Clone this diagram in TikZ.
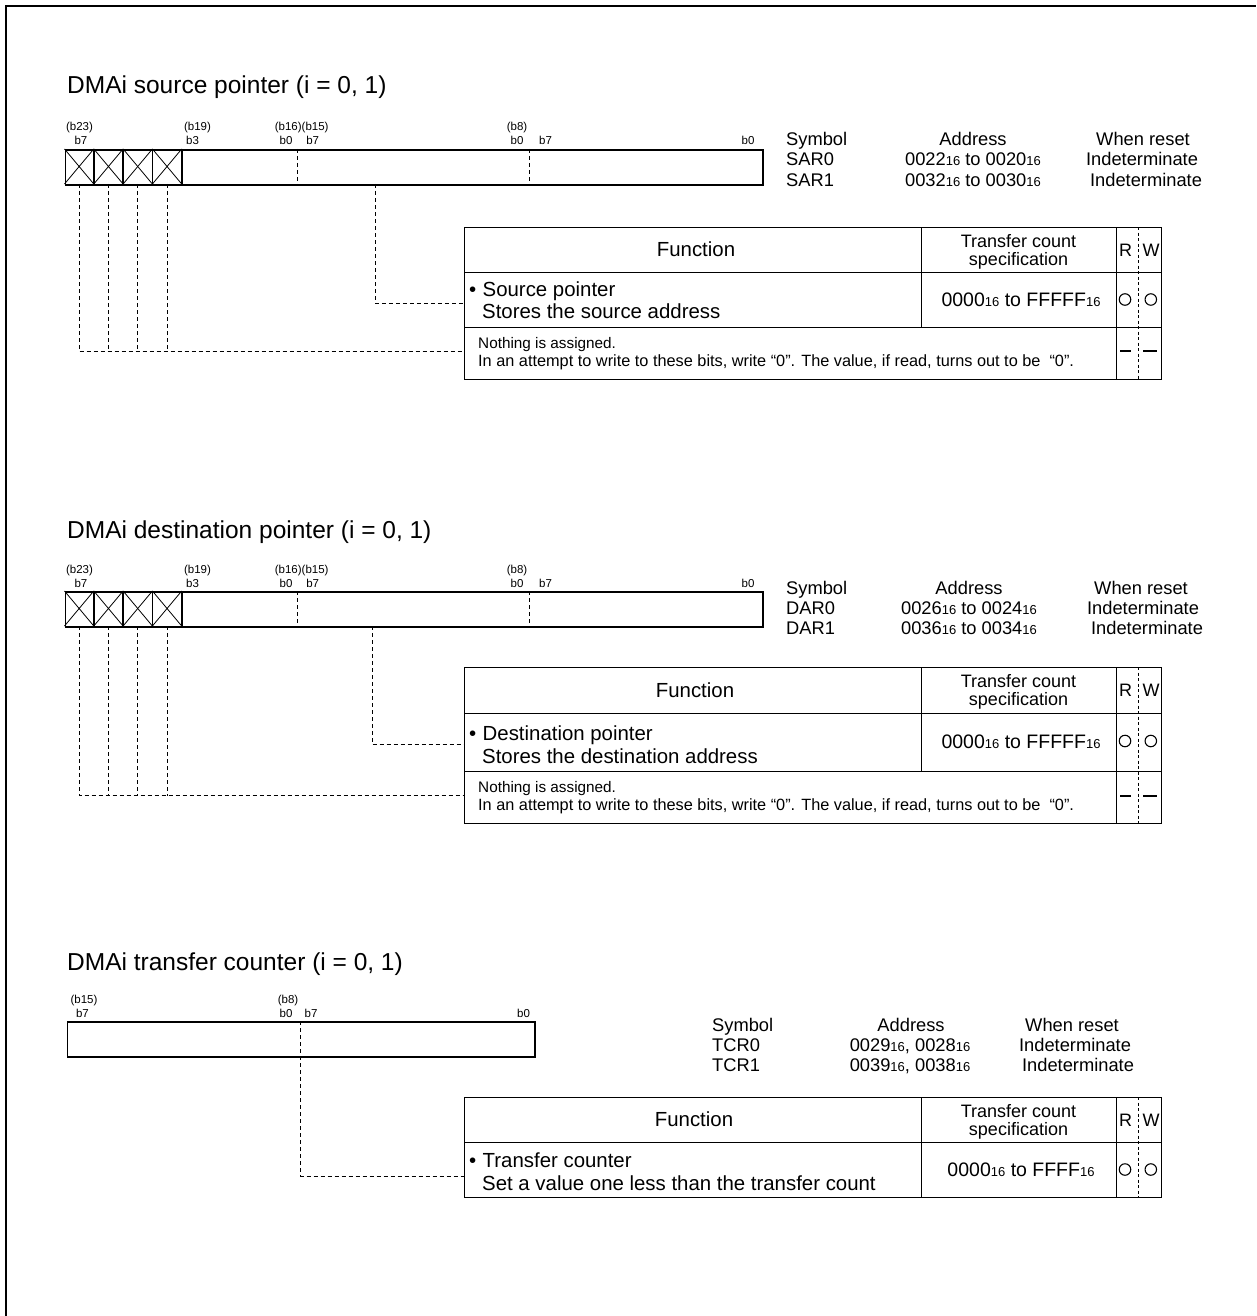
\documentclass[tikz,border=0pt]{standalone}
\usepackage{fontspec}
\setmainfont{Liberation Sans}
\newcommand\ftitle{\fontsize{24.5}{28}\selectfont}
\newcommand\fsym{\fontsize{18.3}{21}\selectfont}
\newcommand\ftab{\fontsize{20.4}{24}\selectfont}
\newcommand\fhdr{\fontsize{18}{21}\selectfont}
\newcommand\fval{\fontsize{19.5}{22}\selectfont}
\newcommand\fsmall{\fontsize{15.3}{17}\selectfont}
\newcommand\fsmallb{\fontsize{16.3}{18}\selectfont}
\newcommand\fbit{\fontsize{11.5}{13}\selectfont}
\newcommand\hexs{{\fontsize{13}{14}\selectfont 16}}
\tikzset{
  regbox/.style={draw, line width=1.6pt, inner sep=0pt},
  regline/.style={line width=1.6pt},
  xline/.style={line width=0.8pt},
  cellbox/.style={draw, line width=1.3pt, inner sep=0pt},
  conn/.style={line width=1pt, dash pattern=on 4pt off 3pt},
  rwdiv/.style={line width=0.6pt, dash pattern=on 3pt off 2.5pt},
  lbl/.style={inner sep=0pt, anchor=base},
  lblw/.style={inner sep=0pt, anchor=base west},
  bit/.style={inner sep=0pt, anchor=base, font=\fbit},
  rwmark/.style={circle, draw, line width=1.1pt, minimum size=11.5pt, inner sep=0pt},
  nilmark/.style={line width=1.6pt},
}
\newcommand\cell[5]{\node[cellbox, minimum width=#4pt, minimum height=#5pt, anchor=north west] (#1) at (#2,#3) {};}
% 24-bit register: #1 name, #2 top y
\newcommand\regA[2]{%
  \foreach \k in {0,1,2,3}{%
    \draw[xline] ({64.5+29.3*\k},#2) -- ({93.8+29.3*\k},{#2+35}) ({64.5+29.3*\k},{#2+35}) -- ({93.8+29.3*\k},#2);
    \draw[regline] ({93.8+29.3*\k},#2) -- ({93.8+29.3*\k},{#2+35});}
  \node[regbox, minimum width=697.5pt, minimum height=35pt, anchor=north west] (#1) at (64.5,#2) {};
  \draw[conn] (297,#2) -- (297,{#2+35});
  \draw[conn] (529,#2) -- (529,{#2+35});
  \node[bit] (#1la) at (79.5,{#2-18}) {(b23)};
  \node[bit] (#1lb) at (81,{#2-4}) {b7};
  \node[bit] (#1lc) at (197.5,{#2-18}) {(b19)};
  \node[bit] (#1ld) at (192.5,{#2-4}) {b3};
  \node[bit] (#1le) at (301.7,{#2-18}) {(b16)(b15)};
  \node[bit] (#1lf) at (286,{#2-4}) {b0};
  \node[bit] (#1lg) at (312.7,{#2-4}) {b7};
  \node[bit] (#1lh) at (517,{#2-18}) {(b8)};
  \node[bit] (#1li) at (517,{#2-4}) {b0};
  \node[bit] (#1lj) at (545.6,{#2-4}) {b7};
  \node[bit] (#1lk) at (748,{#2-4}) {b0};
  \coordinate (#1c1) at (79.15,{#2+35});
  \coordinate (#1c2) at (108.45,{#2+35});
  \coordinate (#1c3) at (137.75,{#2+35});
  \coordinate (#1c4) at (167.05,{#2+35});
}
\begin{document}
\begin{tikzpicture}[x=1pt,y=-1pt]
\useasboundingbox (0,0) rectangle (1256,1316);
\draw[line width=2pt] (6,1316) -- (6,6) -- (1256,6);

% ================= Section 1 =================
\node[lblw] (title1) at (67,94) {\ftitle DMAi source pointer (i = 0, 1)};
\regA{r1}{149}
\node[lblw] (s1sym) at (786,146) {\fsym Symbol};
\node[lblw] (s1n0) at (786,166) {\fsym SAR0};
\node[lblw] (s1n1) at (786,186) {\fsym SAR1};
\node[lbl] (s1adr) at (973,146) {\fsym Address};
\node[lbl] (s1a0) at (973,166) {\fsym 0022\hexs\ to 0020\hexs};
\node[lbl] (s1a1) at (973,186) {\fsym 0032\hexs\ to 0030\hexs};
\node[lbl] (s1rst) at (1143,146) {\fsym When reset};
\node[lbl] (s1r0) at (1142,166) {\fsym Indeterminate};
\node[lbl] (s1r1) at (1146,186) {\fsym Indeterminate};

\cell{t1fh}{464}{227}{457}{45}
\cell{t1th}{921}{227}{195}{45}
\cell{t1rwh}{1116}{227}{45}{45}
\cell{t1f}{464}{272}{457}{55}
\cell{t1t}{921}{272}{195}{55}
\cell{t1rw}{1116}{272}{45}{55}
\cell{t1n}{464}{327}{652}{52}
\cell{t1rwn}{1116}{327}{45}{52}
\draw[rwdiv] (1138.5,227) -- (1138.5,379);
\node[lbl] (t1h1) at (696,256.5) {\ftab Function};
\node[lbl] (t1h2) at (1018.5,247) {\fhdr Transfer count};
\node[lbl] (t1h3) at (1018.5,265) {\fhdr specification};
\node[lbl] (t1hr) at (1125.5,256) {\fhdr R};
\node[lbl] (t1hw) at (1151,256) {\fhdr W};
\node[lblw] (t1bul) at (469,296) {\ftab •};
\node[lblw] (t1x1) at (482.5,296) {\ftab Source pointer};
\node[lblw] (t1x2) at (482,318) {\ftab Stores the source address};
\node[lbl] (t1v) at (1021,306) {\fval 0000\hexs\ to FFFFF\hexs};
\node[rwmark] (t1or) at (1125,299.5) {};
\node[rwmark] (t1ow) at (1150.8,299.5) {};
\node[lblw] (t1n1) at (478,348) {\fsmall Nothing is assigned.};
\node[lblw] (t1n2) at (478,366) {\fsmallb In an attempt to write to these bits, write “0”. The value, if read, turns out to be \ “0”.};
\draw[nilmark] (1120,351) -- (1131,351);
\draw[nilmark] (1143,351) -- (1157,351);

\coordinate (t1nj) at ([yshift=2pt]t1n.west);
\coordinate (t1fj) at ([yshift=-3pt]t1f.west);
\coordinate (r1src) at (375,184);
\draw[conn] (r1src) |- (t1fj);
\draw[conn] (r1c1) |- (t1nj);
\draw[conn] (r1c2) -- (r1c2 |- t1nj);
\draw[conn] (r1c3) -- (r1c3 |- t1nj);
\draw[conn] (r1c4) -- (r1c4 |- t1nj);

% ================= Section 2 =================
\node[lblw] (title2) at (67,538) {\ftitle DMAi destination pointer (i = 0, 1)};
\regA{r2}{591}
\node[lblw] (s2sym) at (786,594) {\fsym Symbol};
\node[lblw] (s2n0) at (786,614) {\fsym DAR0};
\node[lblw] (s2n1) at (786,634) {\fsym DAR1};
\node[lbl] (s2adr) at (969,594) {\fsym Address};
\node[lbl] (s2a0) at (969,614) {\fsym 0026\hexs\ to 0024\hexs};
\node[lbl] (s2a1) at (969,634) {\fsym 0036\hexs\ to 0034\hexs};
\node[lbl] (s2rst) at (1141,594) {\fsym When reset};
\node[lbl] (s2r0) at (1143,614) {\fsym Indeterminate};
\node[lbl] (s2r1) at (1147,634) {\fsym Indeterminate};

\cell{t2fh}{464}{667}{457}{46}
\cell{t2th}{921}{667}{195}{46}
\cell{t2rwh}{1116}{667}{45}{46}
\cell{t2f}{464}{713}{457}{58}
\cell{t2t}{921}{713}{195}{58}
\cell{t2rw}{1116}{713}{45}{58}
\cell{t2n}{464}{771}{652}{52}
\cell{t2rwn}{1116}{771}{45}{52}
\draw[rwdiv] (1138.5,667) -- (1138.5,823);
\node[lbl] (t2h1) at (695,697) {\ftab Function};
\node[lbl] (t2h2) at (1018.5,687) {\fhdr Transfer count};
\node[lbl] (t2h3) at (1018.5,705) {\fhdr specification};
\node[lbl] (t2hr) at (1125.5,696) {\fhdr R};
\node[lbl] (t2hw) at (1151,696) {\fhdr W};
\node[lblw] (t2bul) at (469,740) {\ftab •};
\node[lblw] (t2x1) at (482.5,740) {\ftab Destination pointer};
\node[lblw] (t2x2) at (482,763) {\ftab Stores the destination address};
\node[lbl] (t2v) at (1021,748.5) {\fval 0000\hexs\ to FFFFF\hexs};
\node[rwmark] (t2or) at (1125,741) {};
\node[rwmark] (t2ow) at (1150.8,741) {};
\node[lblw] (t2n1) at (478,792) {\fsmall Nothing is assigned.};
\node[lblw] (t2n2) at (478,810) {\fsmallb In an attempt to write to these bits, write “0”. The value, if read, turns out to be \ “0”.};
\draw[nilmark] (1120,796) -- (1131,796);
\draw[nilmark] (1143,796) -- (1157,796);

\coordinate (t2nj) at ([yshift=2pt]t2n.west);
\coordinate (t2fj) at ([yshift=-2pt]t2f.west);
\coordinate (r2src) at (372.3,626);
\draw[conn] (r2src) |- (t2fj);
\draw[conn] (r2c1) |- (t2nj);
\draw[conn] (r2c2) -- (r2c2 |- t2nj);
\draw[conn] (r2c3) -- (r2c3 |- t2nj);
\draw[conn] (r2c4) -- (r2c4 |- t2nj);

% ================= Section 3 =================
\node[lblw] (title3) at (67,970) {\ftitle DMAi transfer counter (i = 0, 1)};
\node[regbox, minimum width=467.3pt, minimum height=35pt, anchor=north west] (r3) at (66.7,1021) {};
\node[bit] (r3la) at (84,1003) {(b15)};
\node[bit] (r3lb) at (82.5,1017) {b7};
\node[bit] (r3lc) at (288,1003) {(b8)};
\node[bit] (r3ld) at (286,1017) {b0};
\node[bit] (r3le) at (311,1017) {b7};
\node[bit] (r3lf) at (523.5,1017) {b0};
\node[lblw] (s3sym) at (712,1031) {\fsym Symbol};
\node[lblw] (s3n0) at (712,1051) {\fsym TCR0};
\node[lblw] (s3n1) at (712,1071) {\fsym TCR1};
\node[lbl] (s3adr) at (911,1031) {\fsym Address};
\node[lbl] (s3a0) at (910,1051) {\fsym 0029\hexs, 0028\hexs};
\node[lbl] (s3a1) at (910,1071) {\fsym 0039\hexs, 0038\hexs};
\node[lbl] (s3rst) at (1072,1031) {\fsym When reset};
\node[lbl] (s3r0) at (1075,1051) {\fsym Indeterminate};
\node[lbl] (s3r1) at (1078,1071) {\fsym Indeterminate};

\cell{t3fh}{464}{1097}{457}{45}
\cell{t3th}{921}{1097}{195}{45}
\cell{t3rwh}{1116}{1097}{45}{45}
\cell{t3f}{464}{1142}{457}{55}
\cell{t3t}{921}{1142}{195}{55}
\cell{t3rw}{1116}{1142}{45}{55}
\draw[rwdiv] (1138.5,1097) -- (1138.5,1197);
\node[lbl] (t3h1) at (694,1126.5) {\ftab Function};
\node[lbl] (t3h2) at (1018.5,1117) {\fhdr Transfer count};
\node[lbl] (t3h3) at (1018.5,1135) {\fhdr specification};
\node[lbl] (t3hr) at (1125.5,1126) {\fhdr R};
\node[lbl] (t3hw) at (1151,1126) {\fhdr W};
\node[lblw] (t3bul) at (469,1167) {\ftab •};
\node[lblw] (t3x1) at (482.5,1167) {\ftab Transfer counter};
\node[lblw] (t3x2) at (482,1190) {\ftab Set a value one less than the transfer count};
\node[lbl] (t3v) at (1021,1176) {\fval 0000\hexs\ to FFFF\hexs};
\node[rwmark] (t3or) at (1125,1169.5) {};
\node[rwmark] (t3ow) at (1150.8,1169.5) {};

\coordinate (t3fj) at ([yshift=-6pt]t3f.west);
\coordinate (r3div) at (300.7,1021);
\draw[conn] (r3div) |- (t3fj);
\end{tikzpicture}
\end{document}
